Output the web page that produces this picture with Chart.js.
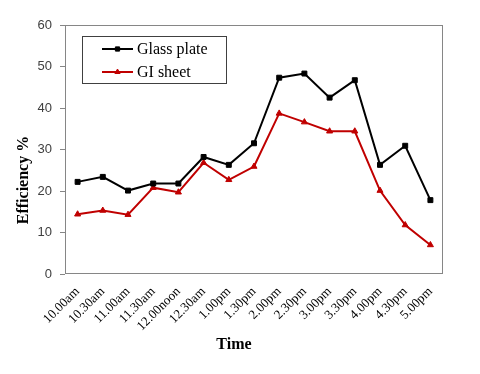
<!DOCTYPE html>
<html>
<head>
<meta charset="utf-8">
<script src="https://cdn.jsdelivr.net/npm/chart.js@4/dist/chart.umd.min.js"></script>
<style>
  html, body { margin: 0; padding: 0; background: #fff; }
  #wrap { width: 480px; height: 374px; }
</style>
</head>
<body>
<div id="wrap"><canvas id="effChart" width="480" height="374"></canvas></div>
<script>
// time of day (x categories)
const times = ['10.00am', '10.30am', '11.00am', '11.30am', '12.00noon', '12.30am', '1.00pm',
  '1.30pm', '2.00pm', '2.30pm', '3.00pm', '3.30pm', '4.00pm', '4.30pm', '5.00pm'];
// efficiency %
const glassPlate = [22.2, 23.4, 20.1, 21.8, 21.8, 28.2, 26.3, 31.5, 47.3, 48.3, 42.5, 46.7, 26.3, 30.9, 17.8];
const giSheet = [14.4, 15.3, 14.3, 20.8, 19.7, 26.8, 22.7, 25.9, 38.7, 36.6, 34.4, 34.4, 20.1, 11.8, 7.0];
const yTicks = [0, 10, 20, 30, 40, 50, 60];

const axisGray = '#868686';
const serif = "'Liberation Serif', 'Times New Roman', serif";

// frame round the plot area + legend box + axis titles
const extras = {
    id: 'extras',
    afterDraw(chart) {
        const c = chart.ctx;
        const a = chart.chartArea;
        c.save();
        c.strokeStyle = axisGray;
        c.lineWidth = 1;
        c.strokeRect(Math.round(a.left) + 0.5, Math.round(a.top) + 0.5,
            Math.round(a.right - a.left) - 1, Math.round(a.bottom - a.top) - 1);

        // legend
        c.strokeStyle = '#404040';
        c.strokeRect(82.5, 36.5, 144, 47);
        const rows = [49, 72];
        chart.data.datasets.forEach((ds, i) => {
            const y = rows[i];
            c.strokeStyle = ds.borderColor;
            c.fillStyle = ds.backgroundColor;
            c.lineWidth = 2;
            c.beginPath();
            c.moveTo(102, y);
            c.lineTo(133, y);
            c.stroke();
            c.lineWidth = 1;
            Chart.helpers.drawPoint(c, {pointStyle: ds.pointStyle, radius: 3, borderWidth: 1}, 117.5, y);
            c.fillStyle = '#000';
            c.font = '16px ' + serif;
            c.textBaseline = 'middle';
            c.textAlign = 'left';
            c.fillText(ds.label, 137, y + 1);
        });

        // axis titles
        c.fillStyle = '#000';
        c.font = 'bold 16px ' + serif;
        c.textAlign = 'center';
        c.textBaseline = 'middle';
        c.fillText('Time', 234, 345);
        c.translate(24, 180);
        c.rotate(-Math.PI / 2);
        c.fillText('Efficiency %', 0, 0);
        c.restore();
    }
};

const config = {
    type: 'line',
    data: {
        labels: times,
        datasets: [
            {
                label: 'Glass plate',
                data: glassPlate,
                borderColor: '#000000',
                backgroundColor: '#000000',
                borderWidth: 2,
                pointStyle: 'rect',
                pointRadius: 3.5,
                pointBorderWidth: 1,
                tension: 0
            },
            {
                label: 'GI sheet',
                data: giSheet,
                borderColor: '#c00000',
                backgroundColor: '#c00000',
                borderWidth: 2,
                pointStyle: 'triangle',
                pointRadius: 3.5,
                pointBorderWidth: 1,
                tension: 0
            }
        ]
    },
    options: {
        responsive: false,
        animation: false,
        layout: { padding: { top: 25, right: 37, bottom: 0, left: 0 } },
        plugins: {
            legend: { display: false },
            tooltip: { enabled: false }
        },
        scales: {
            x: {
                offset: true,
                grid: { display: false },
                border: { display: false },
                ticks: {
                    color: '#000',
                    autoSkip: false,
                    minRotation: 45,
                    maxRotation: 45,
                    padding: 2,
                    font: { family: serif, size: 13 }
                },
                afterFit(scale) { scale.height = 100; }
            },
            y: {
                min: 0,
                max: 60,
                afterBuildTicks(scale) { scale.ticks = yTicks.map(v => ({ value: v })); },
                grid: { drawOnChartArea: false, color: axisGray, tickLength: 5 },
                border: { display: false },
                ticks: {
                    color: '#404040',
                    padding: 8,
                    font: { family: "'Liberation Sans', Arial, sans-serif", size: 13 }
                },
                afterFit(scale) { scale.width = 65; }
            }
        }
    },
    plugins: [extras]
};

new Chart(document.getElementById('effChart').getContext('2d'), config);
</script>
</body>
</html>
